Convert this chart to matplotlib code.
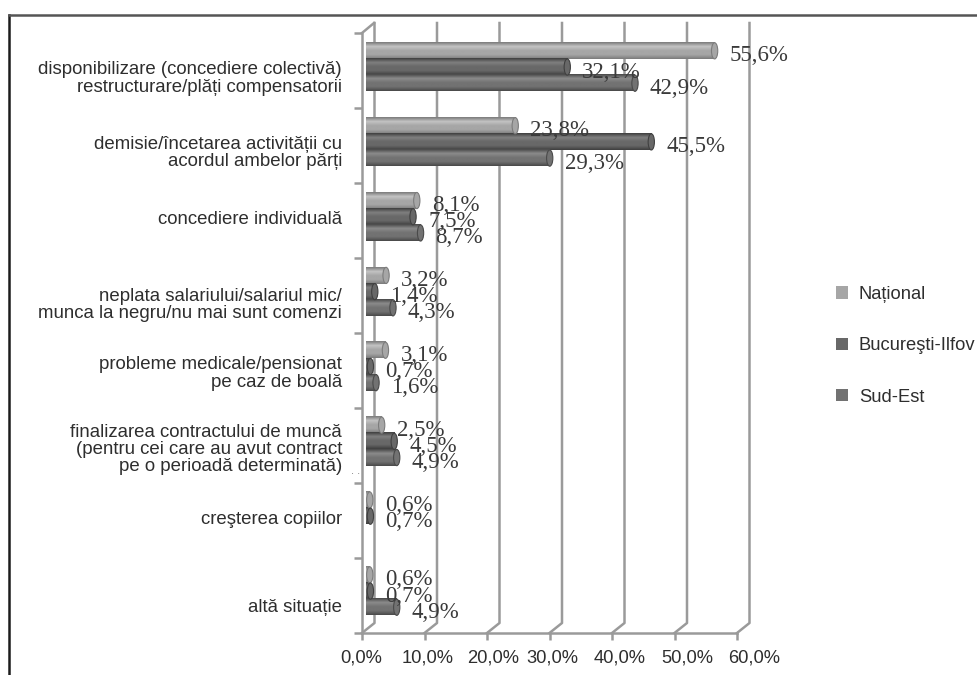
import numpy as np
import matplotlib
matplotlib.use("Agg")
import matplotlib.pyplot as plt
from matplotlib.lines import Line2D
from matplotlib.patches import Ellipse
from matplotlib.transforms import Affine2D, ScaledTranslation, blended_transform_factory
from matplotlib.colors import LinearSegmentedColormap

categories = [
    "disponibilizare (concediere colectivă)\nrestructurare/plăți compensatorii",
    "demisie/încetarea activității cu\nacordul ambelor părți",
    "concediere individuală",
    "neplata salariului/salariul mic/\nmunca la negru/nu mai sunt comenzi",
    "probleme medicale/pensionat\npe caz de boală",
    "finalizarea contractului de muncă\n(pentru cei care au avut contract\npe o perioadă determinată)",
    "creşterea copiilor",
    "altă situație",
]
national = [55.6, 23.8, 8.1, 3.2, 3.1, 2.5, 0.6, 0.6]
bucuresti = [32.1, 45.5, 7.5, 1.4, 0.7, 4.5, 0.7, 0.7]
sud_est = [42.9, 29.3, 8.7, 4.3, 1.6, 4.9, None, 4.9]
series_names = ["Național", "Bucureşti-Ilfov", "Sud-Est"]
x_ticks = [0, 10, 20, 30, 40, 50, 60]

W, H = 977, 675
GRID = "#9a9a9a"
TEXT = "#2e2e2e"
SERIES_STYLE = [("#a6a6a6", "#c4c4c4", "#7c7c7c"),
                ("#686868", "#808080", "#404040"),
                ("#727272", "#8c8c8c", "#4a4a4a")]
LABEL_SHIFT = [8, 7.5, -1.5, 9.5, 3, 4, -1.5, 12]
XTICK_SHIFT = [-1, 3, 6, 3, 8, 13, 17]

fig = plt.figure(figsize=(W / 100, H / 100), dpi=100, facecolor="white")
plt.rcParams["font.family"] = ["Liberation Sans", "DejaVu Sans"]
px = Affine2D().scale(1, -1).translate(0, H)


def axes_px(x0, y0, x1, y1, **kw):
    return fig.add_axes([x0 / W, 1 - y1 / H, (x1 - x0) / W, (y1 - y0) / H], **kw)


# outer frame of the scan
fig.add_artist(Line2D([9, 9], [15, H], transform=px, color="#1c1c1c", lw=1.8))
fig.add_artist(Line2D([9, W], [15, 15], transform=px, color="#555555", lw=1.8))

# front plane of the axes: ticks and labels
front = axes_px(362, 33, 737, 633)
front.set_xlim(0, 60)
front.set_ylim(8, 0)
front.patch.set_alpha(0)
front.set_zorder(1)
for s in ("top", "right"):
    front.spines[s].set_visible(False)
for s in ("left", "bottom"):
    front.spines[s].set_color(GRID)
    front.spines[s].set_linewidth(1.8)
front.set_xticks(x_ticks)
front.set_xticklabels([f"{v},0%" for v in x_ticks], fontsize=13.2, color=TEXT)
front.tick_params(axis="x", color=GRID, width=1.8, length=5, pad=7)
front.set_yticks(range(9))
front.set_yticklabels([])
front.tick_params(axis="y", color=GRID, width=1.8, length=6)
for lab, dx in zip(front.get_xticklabels(), XTICK_SHIFT):
    lab.set_transform(lab.get_transform() + ScaledTranslation(dx / 100, 0, fig.dpi_scale_trans))

trans = blended_transform_factory(front.transAxes, front.transData)
for i, (name, shift) in enumerate(zip(categories, LABEL_SHIFT)):
    front.annotate(name, xy=(0, i + 0.5), xycoords=trans, xytext=(-20, -shift),
                   textcoords="offset pixels", ha="right", va="center", ma="right",
                   fontsize=13.4, color=TEXT, linespacing=1.03, annotation_clip=False)
front.text(-1.0, 5.84, ". .", transform=front.transData, fontsize=8, color="#777777",
           ha="center", va="center", clip_on=False)

# back wall and floor, derived from the tick positions
for v in x_ticks:
    xp = front.transData.transform((v, 0))[0]
    fig.add_artist(Line2D([xp, xp + 12.5, xp + 12.5], [633, 623, 23], transform=px,
                          color=GRID, lw=1.8, zorder=0.5))
fig.add_artist(Line2D([362, 374], [33, 23], transform=px, color=GRID, lw=1.8, zorder=0.5))

# bars
ax = axes_px(366, 29.6, 742.2, 628.5)
ax.set_xlim(0, 60)
ax.set_ylim(7.5, -0.5)
ax.axis("off")
ax.set_zorder(2)
bar_h = 16.2 / 74.86
for s, (vals, name, style) in enumerate(zip([national, bucuresti, sud_est], series_names, SERIES_STYLE)):
    base, light, dark = style
    ys = np.arange(len(vals)) - bar_h + s * bar_h
    widths = [0 if v is None else v for v in vals]
    bars = ax.barh(ys, widths, height=bar_h, color=base, label=name, zorder=3)
    cmap = LinearSegmentedColormap.from_list("b", [dark, light, base, base, dark])
    for rect, v in zip(bars, vals):
        if v is None:
            continue
        x0, y0, w, h = rect.get_x(), rect.get_y(), rect.get_width(), rect.get_height()
        ax.imshow(np.linspace(0, 1, 32).reshape(-1, 1), cmap=cmap, aspect="auto",
                  extent=(x0, x0 + w, y0 + h, y0), zorder=3.1, interpolation="bilinear")
        ax.add_patch(Ellipse((x0 + w, y0 + h / 2), 1.0, h, facecolor=base, edgecolor=dark,
                             lw=0.8, zorder=3.2))
        ax.annotate(f"{v:.1f}".replace(".", ",") + "%", xy=(x0 + w, y0 + h / 2),
                    xytext=(15, -5), textcoords="offset pixels", ha="left", va="center",
                    family="Liberation Serif", fontsize=16.5, color="#3a3a3a", zorder=5,
                    annotation_clip=False)
ax.set_xlim(0, 60)
ax.set_ylim(7.5, -0.5)

handles, labels = ax.get_legend_handles_labels()
fig.legend(handles, labels, loc="upper left", bbox_to_anchor=(836 / W, 1 - 286 / H),
           frameon=False, fontsize=13.2, handlelength=0.65, handleheight=0.65,
           handletextpad=0.6, labelspacing=1.87, borderaxespad=0, borderpad=0,
           labelcolor=TEXT)

fig.savefig("out.png", dpi=100, facecolor="white")
